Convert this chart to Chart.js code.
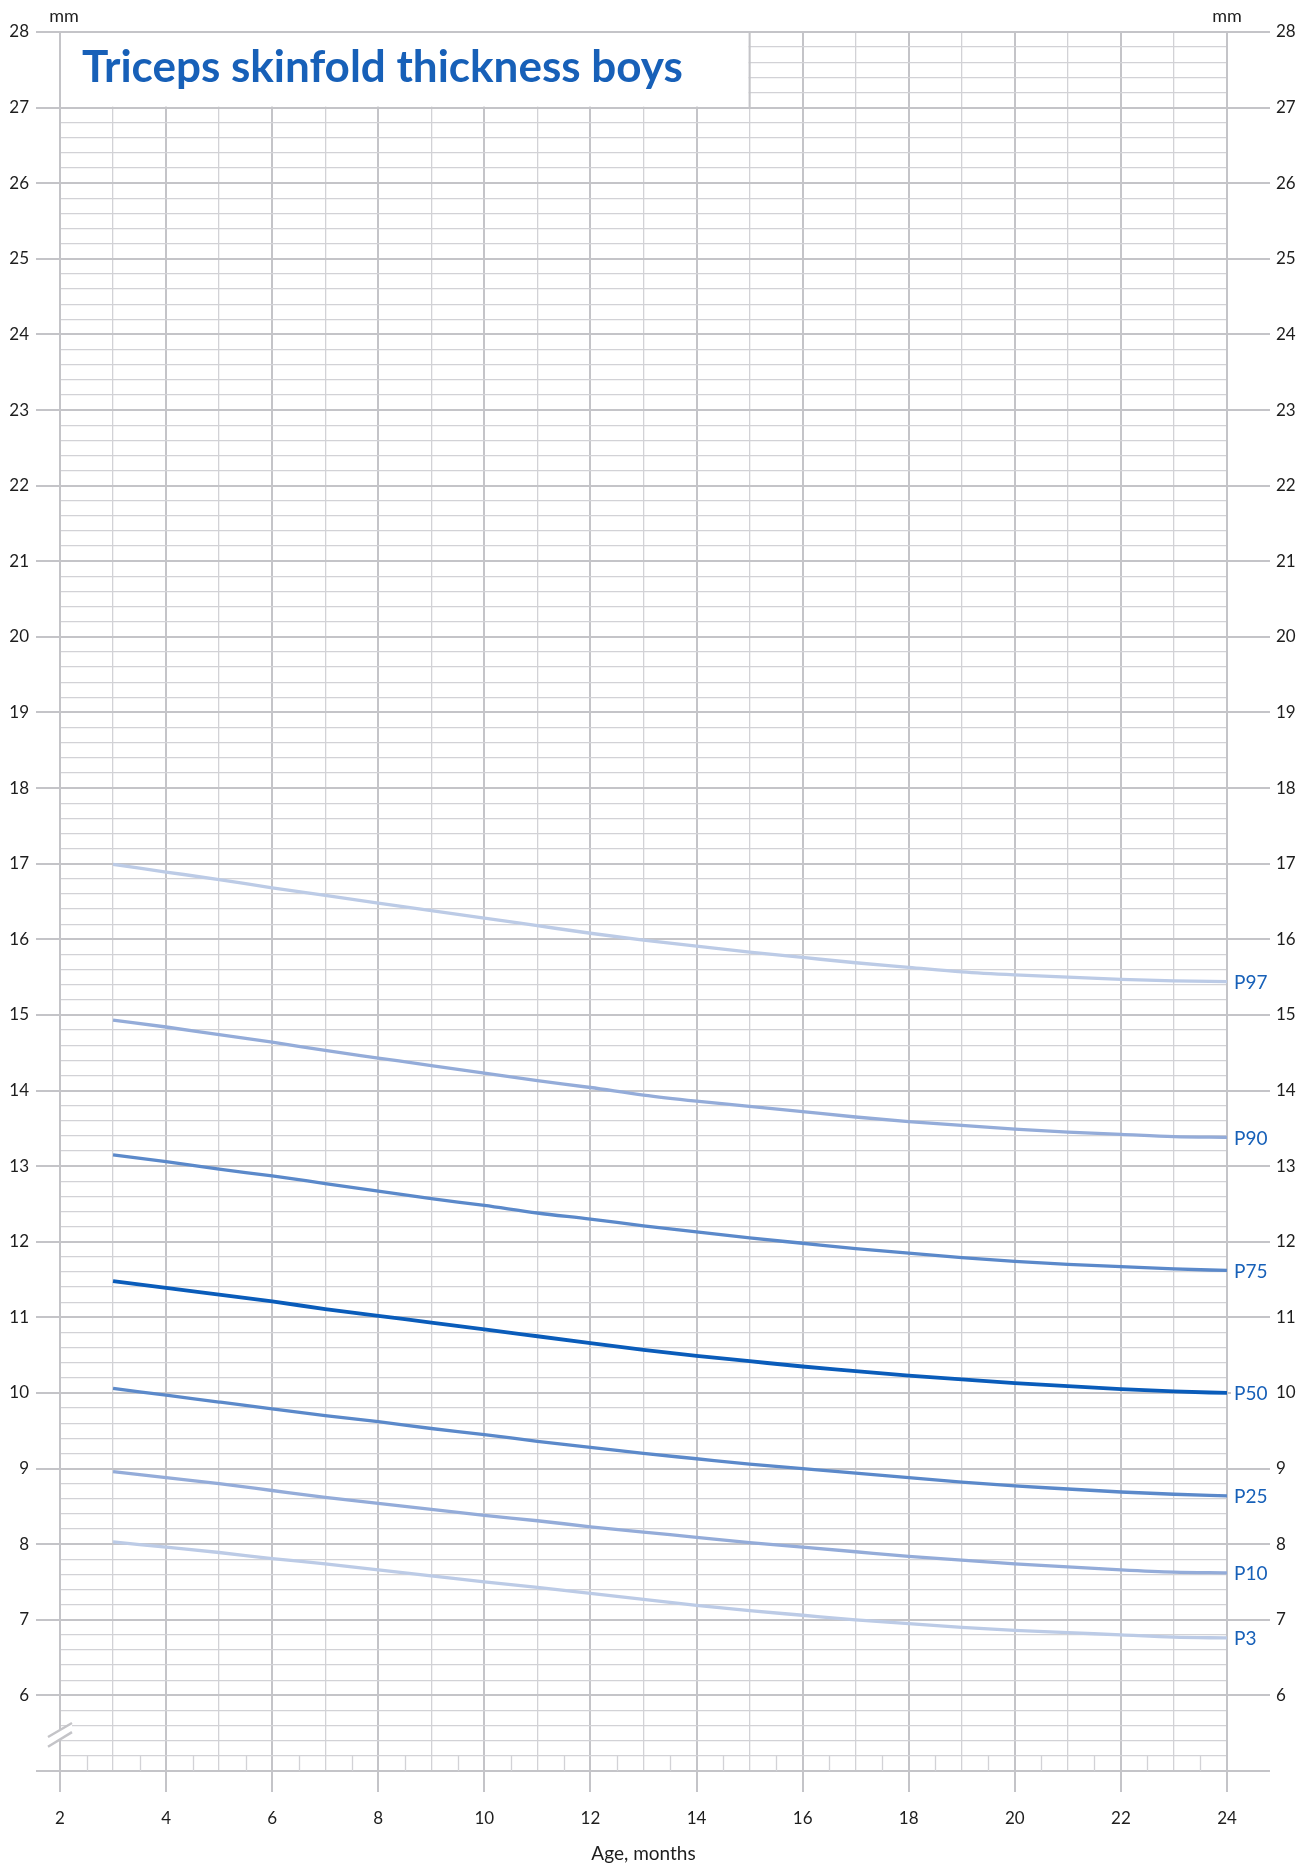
<!DOCTYPE html>
<html>
<head>
<meta charset="utf-8">
<title>Triceps skinfold thickness boys</title>
<script src="https://cdn.jsdelivr.net/npm/chart.js@4.4.1/dist/chart.umd.min.js"></script>
<style>
  html, body { margin: 0; padding: 0; background: #fff; }
  #wrap { width: 1310px; height: 1867px; }
</style>
</head>
<body>
<div id="wrap"><canvas id="chart" width="1310" height="1867"></canvas></div>
<script>
// age in months
const months = [3, 4, 5, 6, 7, 8, 9, 10, 11, 12, 13, 14, 15, 16, 17, 18, 19, 20, 21, 22, 23, 24];

// triceps skinfold, mm
const p97 = [16.99, 16.89, 16.79, 16.68, 16.58, 16.48, 16.38, 16.28, 16.18, 16.08, 15.99, 15.91, 15.83, 15.76, 15.69, 15.63, 15.57, 15.53, 15.50, 15.47, 15.45, 15.44];
const p90 = [14.93, 14.84, 14.74, 14.64, 14.53, 14.43, 14.33, 14.23, 14.13, 14.04, 13.94, 13.86, 13.79, 13.72, 13.65, 13.59, 13.54, 13.49, 13.45, 13.42, 13.39, 13.38];
const p75 = [13.15, 13.06, 12.96, 12.87, 12.77, 12.67, 12.57, 12.48, 12.38, 12.30, 12.21, 12.13, 12.05, 11.98, 11.91, 11.85, 11.79, 11.74, 11.70, 11.67, 11.64, 11.62];
const p50 = [11.48, 11.39, 11.30, 11.21, 11.11, 11.02, 10.93, 10.84, 10.75, 10.66, 10.57, 10.49, 10.42, 10.35, 10.29, 10.23, 10.18, 10.13, 10.09, 10.05, 10.02, 10.00];
const p25 = [10.06, 9.97, 9.88, 9.79, 9.70, 9.62, 9.53, 9.45, 9.36, 9.28, 9.20, 9.13, 9.06, 9.00, 8.94, 8.88, 8.82, 8.77, 8.73, 8.69, 8.66, 8.64];
const p10 = [8.96, 8.88, 8.80, 8.71, 8.62, 8.54, 8.46, 8.38, 8.31, 8.23, 8.16, 8.09, 8.02, 7.96, 7.90, 7.84, 7.79, 7.74, 7.70, 7.66, 7.63, 7.62];
const p3 = [8.03, 7.96, 7.89, 7.81, 7.74, 7.66, 7.58, 7.50, 7.43, 7.35, 7.27, 7.19, 7.12, 7.06, 7.00, 6.95, 6.90, 6.86, 6.83, 6.80, 6.77, 6.76];

const seriesNames = ['P97', 'P90', 'P75', 'P50', 'P25', 'P10', 'P3'];
const seriesValues = [p97, p90, p75, p50, p25, p10, p3];
const seriesColors = ['#bccbe6', '#94acd9', '#5b89ca', '#0a5cba', '#5b89ca', '#94acd9', '#bccbe6'];

const xLabels = [2, 4, 6, 8, 10, 12, 14, 16, 18, 20, 22, 24];
const yLabels = [6, 7, 8, 9, 10, 11, 12, 13, 14, 15, 16, 17, 18, 19, 20, 21, 22, 23, 24, 25, 26, 27, 28];

const titleText = 'Triceps skinfold thickness boys';
const xTitle = 'Age, months';
const unitText = 'mm';

const MAJOR = '#c4c4c8';
const MINOR = '#d2d2d6';
const INK = '#1e1e1e';
const BLUE = '#1760b8';
const FONT = 'Lato, "Open Sans", sans-serif';

const isInt = v => Math.abs(v - Math.round(v)) < 1e-6;

const datasets = seriesNames.map((name, i) => ({
    label: name,
    data: months.map((m, j) => ({x: m, y: seriesValues[i][j]})),
    borderColor: seriesColors[i],
    borderWidth: name === 'P50' ? 3.8 : 3.3,
    pointRadius: 0,
    cubicInterpolationMode: 'monotone',
    fill: false
}));

const yTicks = (tickLength) => ({
    min: 5,
    max: 28,
    grid: {
        color: c => isInt(c.tick.value) ? MAJOR : MINOR,
        lineWidth: c => isInt(c.tick.value) ? 2 : 1.3,
        tickColor: c => isInt(c.tick.value) ? MAJOR : 'rgba(0,0,0,0)',
        tickWidth: 2,
        tickLength: tickLength
    },
    border: {color: MAJOR, width: 2},
    ticks: {
        stepSize: 0.2,
        autoSkip: false,
        color: INK,
        font: {family: FONT, size: 17},
        callback: v => yLabels.includes(Math.round(v)) && isInt(v) ? String(Math.round(v)) : ''
    }
});

const decor = {
    id: 'decor',
    beforeDatasetsDraw(chart) {
        const {ctx, scales: {x, y}} = chart;
        ctx.save();

        // half-month marks in the strip above the axis
        ctx.strokeStyle = MINOR;
        ctx.lineWidth = 1.3;
        for (let m = 2.5; m < 24; m += 1) {
            const px = Math.round(x.getPixelForValue(m)) + 0.5;
            ctx.beginPath();
            ctx.moveTo(px, y.getPixelForValue(5));
            ctx.lineTo(px, y.getPixelForValue(5.2));
            ctx.stroke();
        }

        // white title box
        const l = x.getPixelForValue(2), r = x.getPixelForValue(15);
        const t = y.getPixelForValue(28), b = y.getPixelForValue(27);
        ctx.fillStyle = '#fff';
        ctx.fillRect(l + 1, t + 1, r - l - 2, b - t - 2);
        ctx.strokeStyle = MAJOR;
        ctx.lineWidth = 2;
        ctx.beginPath();
        ctx.moveTo(r, t);
        ctx.lineTo(r, b);
        ctx.stroke();

        let size = 44;
        ctx.font = 'bold ' + size + 'px ' + FONT;
        const w = ctx.measureText(titleText).width;
        size = Math.min(46, size * 601 / w);
        ctx.font = 'bold ' + size + 'px ' + FONT;
        ctx.fillStyle = BLUE;
        ctx.textBaseline = 'alphabetic';
        ctx.textAlign = 'left';
        ctx.fillText(titleText, l + 22, t + 50);

        // axis break
        const p1a = [l - 12, y.getPixelForValue(5.45)], p1b = [l + 12, y.getPixelForValue(5.635)];
        const p2a = [l - 12, y.getPixelForValue(5.32)], p2b = [l + 12, y.getPixelForValue(5.515)];
        ctx.fillStyle = '#fff';
        ctx.beginPath();
        ctx.moveTo(p1a[0], p1a[1]); ctx.lineTo(p1b[0], p1b[1]);
        ctx.lineTo(p2b[0], p2b[1]); ctx.lineTo(p2a[0], p2a[1]);
        ctx.closePath();
        ctx.fill();
        ctx.strokeStyle = MAJOR;
        ctx.lineWidth = 2.5;
        ctx.beginPath();
        ctx.moveTo(p1a[0], p1a[1]); ctx.lineTo(p1b[0], p1b[1]);
        ctx.moveTo(p2a[0], p2a[1]); ctx.lineTo(p2b[0], p2b[1]);
        ctx.stroke();
        ctx.restore();
    },
    afterDatasetsDraw(chart) {
        const {ctx, scales: {x, y}} = chart;
        ctx.save();
        ctx.font = '19px ' + FONT;
        ctx.textBaseline = 'middle';
        ctx.textAlign = 'left';
        seriesNames.forEach((name, i) => {
            const vals = seriesValues[i];
            const px = x.getPixelForValue(months[months.length - 1]) + 7;
            const py = y.getPixelForValue(vals[vals.length - 1]) + 1;
            const w = ctx.measureText(name).width;
            ctx.fillStyle = '#fff';
            ctx.fillRect(px - 3, py - 11, w + 6, 22);
            ctx.fillStyle = BLUE;
            ctx.fillText(name, px, py);
        });

        // unit labels above both axes
        ctx.font = '18px ' + FONT;
        ctx.fillStyle = INK;
        ctx.textAlign = 'center';
        ctx.fillText(unitText, x.getPixelForValue(2) + 4, 16);
        ctx.fillText(unitText, x.getPixelForValue(24), 16);
        ctx.restore();
    }
};

const ctx = document.getElementById('chart');

const leftY = yTicks(24);
leftY.position = 'left';
leftY.afterFit = s => { s.width = 60; };
leftY.ticks.padding = 7;

const rightY = yTicks(43);
rightY.position = 'right';
rightY.grid.drawOnChartArea = false;
rightY.afterFit = s => { s.width = 83; };
rightY.ticks.padding = 6;

new Chart(ctx, {
    type: 'line',
    data: {datasets: datasets},
    plugins: [decor],
    options: {
        responsive: false,
        animation: false,
        devicePixelRatio: 1,
        layout: {padding: {top: 32, left: 0, right: 0, bottom: 0}},
        plugins: {
            legend: {display: false},
            tooltip: {enabled: false}
        },
        scales: {
            x: {
                type: 'linear',
                min: 2,
                max: 24,
                afterFit: s => { s.height = 96; },
                grid: {
                    color: c => c.tick.value % 2 === 0 ? MAJOR : MINOR,
                    lineWidth: c => c.tick.value % 2 === 0 ? 2 : 1.3,
                    tickColor: c => c.tick.value % 2 === 0 ? MAJOR : 'rgba(0,0,0,0)',
                    tickWidth: 2,
                    tickLength: 21
                },
                border: {color: MAJOR, width: 2},
                ticks: {
                    stepSize: 1,
                    autoSkip: false,
                    maxRotation: 0,
                    padding: 16,
                    color: INK,
                    font: {family: FONT, size: 17},
                    callback: v => xLabels.includes(v) ? String(v) : ''
                },
                title: {
                    display: true,
                    text: xTitle,
                    color: INK,
                    font: {family: FONT, size: 19},
                    padding: {top: 0, bottom: 2}
                }
            },
            y: leftY,
            y2: rightY
        }
    }
});
</script>
</body>
</html>
